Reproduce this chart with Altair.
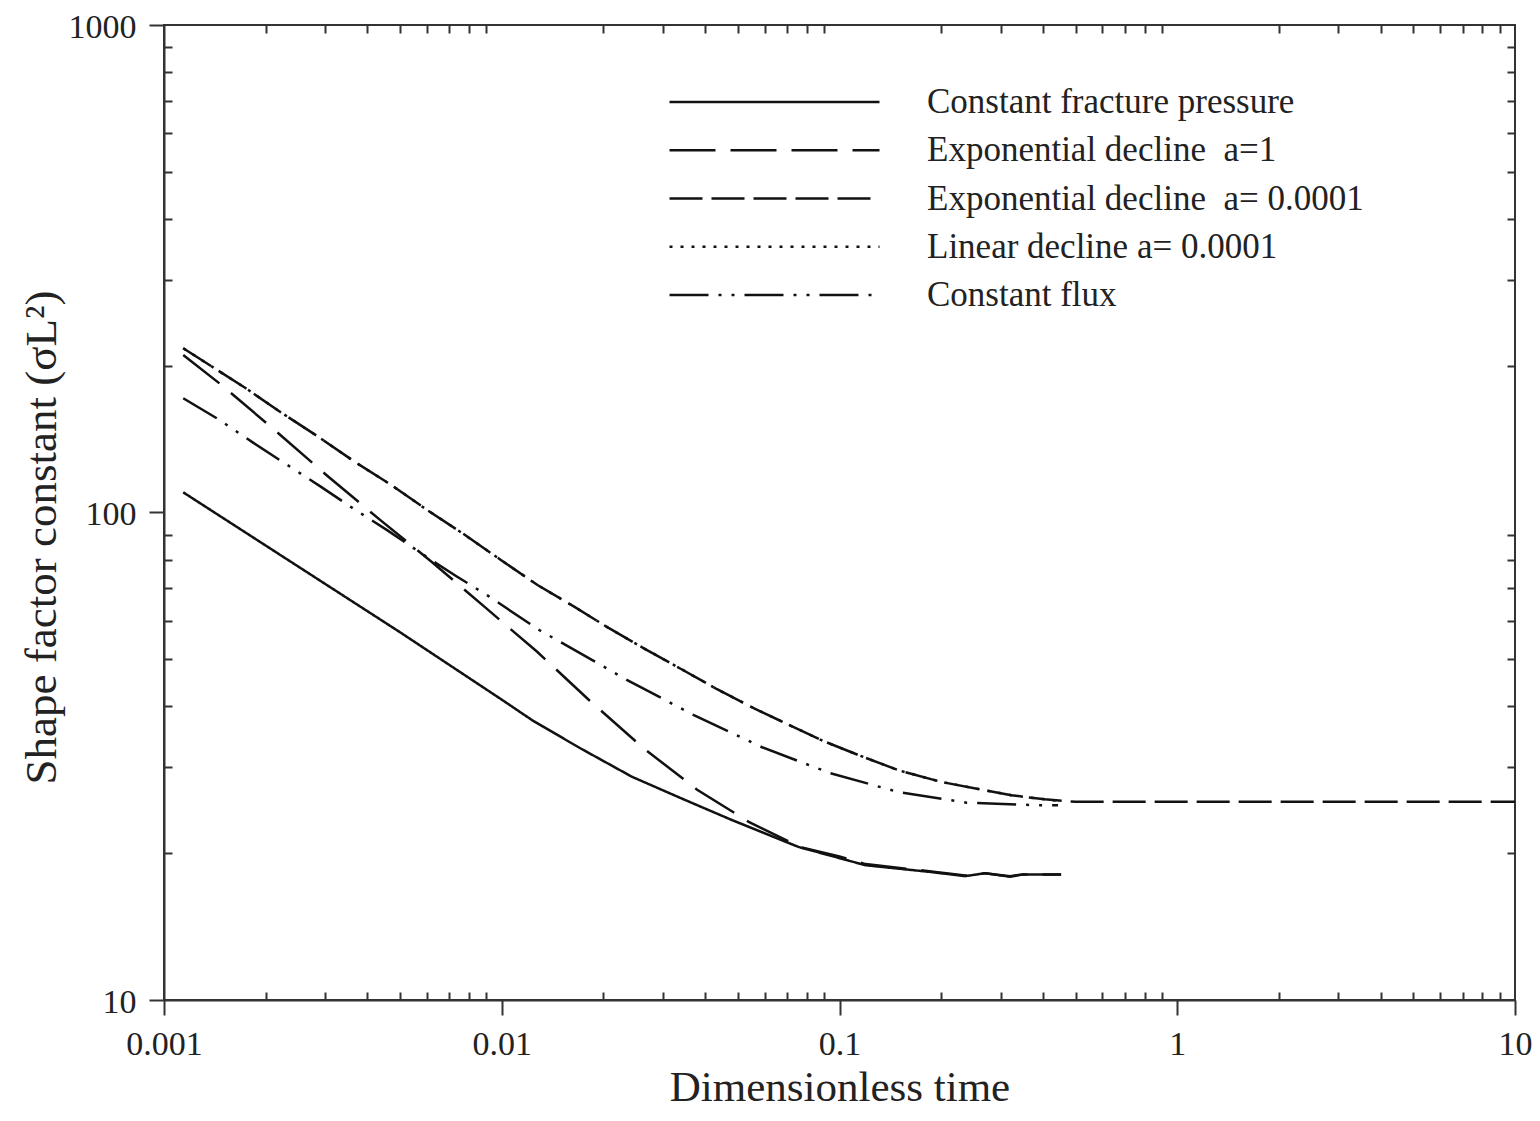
import altair as alt
import pandas as pd

# ---------------- data ----------------
series_names = [
    "Constant fracture pressure",
    "Exponential decline\u00a0 a=1",
    "Exponential decline\u00a0 a= 0.0001",
    "Linear decline a= 0.0001",
    "Constant flux",
]

const_p_t = [0.00114, 0.00498, 0.01006, 0.0123, 0.0170, 0.0243, 0.0350, 0.048,
             0.0757, 0.1194, 0.187, 0.2355, 0.27, 0.32, 0.35, 0.453]
const_p_y = [110.0, 56.9, 41.2, 37.5, 32.9, 28.7, 25.7, 23.4,
             20.6, 18.9, 18.3, 17.95, 18.2, 17.9, 18.1, 18.1]

exp1_t = [0.00114, 0.00148, 0.002127, 0.003024, 0.004345, 0.006246, 0.00888,
          0.01273, 0.01822, 0.02636, 0.03789, 0.05385, 0.07653, 0.1, 0.1194,
          0.187, 0.2355, 0.27, 0.32, 0.35, 0.453]
exp1_y = [210.4, 182.6, 147.6, 119.4, 96.8, 78.9, 64.1,
          51.8, 41.1, 32.8, 27.0, 23.2, 20.6, 19.7, 19.0,
          18.35, 18.0, 18.2, 17.95, 18.1, 18.1]

exp4_t = [0.00114, 0.001747, 0.002242, 0.002876, 0.003667, 0.004707, 0.006012,
          0.00766, 0.00994, 0.01276, 0.01638, 0.02078, 0.02667, 0.03406, 0.0434,
          0.05569, 0.07069, 0.09031, 0.1151, 0.1494, 0.2005, 0.2574, 0.3228,
          0.4052, 0.5, 1.0, 2.0, 5.0, 10.0]
exp4_y = [217.2, 179.8, 159.7, 142.7, 127.1, 113.9, 101.2,
          90.6, 79.9, 71.0, 64.1, 57.9, 52.4, 47.7, 43.4,
          39.7, 36.7, 33.9, 31.7, 29.6, 28.0, 27.1, 26.3,
          25.8, 25.5, 25.5, 25.5, 25.5, 25.5]

lin_t = [0.00114, 0.001747, 0.002242, 0.002876, 0.003667, 0.004707, 0.006012,
         0.00766, 0.00994, 0.01276, 0.01638, 0.02078, 0.02667, 0.03406, 0.0434,
         0.05569, 0.07069, 0.09031, 0.1151, 0.1494, 0.2005, 0.2574, 0.3228,
         0.4052, 0.45]
lin_y = [217.2, 179.8, 159.7, 142.7, 127.1, 113.9, 101.2,
         90.6, 79.9, 71.0, 64.1, 57.9, 52.4, 47.7, 43.4,
         39.7, 36.7, 33.9, 31.7, 29.6, 28.0, 27.1, 26.3,
         25.8, 25.6]

flux_t = [0.00114, 0.001446, 0.001835, 0.002293, 0.00291, 0.003649, 0.0046,
          0.00625, 0.00732, 0.00919, 0.01291, 0.01854, 0.02327, 0.03705,
          0.05896, 0.09386, 0.1494, 0.2377, 0.3785, 0.4436]
flux_y = [171.5, 155.5, 139.1, 125.8, 113.0, 101.7, 91.8,
          79.5, 74.1, 67.2, 57.4, 49.8, 45.5, 38.4,
          33.0, 29.2, 26.7, 25.4, 25.1, 25.1]

x_major = [0.001, 0.01, 0.1, 1, 10]
y_major = [10, 100, 1000]
x_minor = [d * k for d in [0.001, 0.01, 0.1, 1] for k in range(2, 10)]
y_minor = [d * k for d in [10, 100] for k in range(2, 10)]

dash_patterns = [[1, 0], [46, 15], [33, 9], [3, 8], [39, 10, 3, 10, 3, 10]]

# ---------------- table ----------------
rows = []
for name, ts, ys in zip(series_names,
                        [const_p_t, exp1_t, exp4_t, lin_t, flux_t],
                        [const_p_y, exp1_y, exp4_y, lin_y, flux_y]):
    for t, v in zip(ts, ys):
        rows.append({"series": name, "t": t, "y": v})
df = pd.DataFrame(rows)

W, H = 1351, 975
xscale = alt.Scale(type="log", domain=[0.001, 10], nice=False)
yscale = alt.Scale(type="log", domain=[10, 1000], nice=False)

FONT = "Liberation Serif"
common = dict(domainColor="#333", domainWidth=2, tickColor="#333", tickWidth=2,
              grid=False, labelFont=FONT, labelColor="#222",
              titleFont=FONT, titleColor="#222", titleFontWeight="normal")

lines = alt.Chart(df).mark_line(strokeWidth=2.5, color="#111").encode(
    x=alt.X("t:Q", scale=xscale,
            axis=alt.Axis(orient="bottom", values=x_major,
                          labelExpr="toString(datum.value)", tickSize=15,
                          labelPadding=12, labelFontSize=34, labelFlush=False,
                          labelOverlap=False, title="Dimensionless time",
                          titleFontSize=43, titlePadding=5, **common)),
    y=alt.Y("y:Q", scale=yscale,
            axis=alt.Axis(orient="left", values=y_major,
                          labelExpr="toString(datum.value)", tickSize=15,
                          labelPadding=13, labelFontSize=34, labelOverlap=False,
                          labelOffset=2,
                          title="Shape factor constant (σL²)", titleY=512,
                          titleFontSize=45, titlePadding=4, **common)),
    strokeDash=alt.StrokeDash(
        "series:N",
        scale=alt.Scale(domain=series_names, range=dash_patterns),
        sort=series_names,
        legend=alt.Legend(orient="none", legendX=504, legendY=57, title=None,
                          symbolType="stroke", symbolSize=44100,
                          symbolStrokeWidth=2.5, symbolStrokeColor="#111",
                          clipHeight=40, rowPadding=8.25, padding=0,
                          labelFont=FONT, labelFontSize=35, labelColor="#222",
                          labelOffset=46, labelLimit=800),
    ),
)

minor_common = dict(labels=False, domain=False, tickSize=8, title=None,
                    tickColor="#333", tickWidth=2, grid=False)

inner1 = alt.Chart(df).mark_point(opacity=0).encode(
    x=alt.X("t:Q", scale=xscale,
            axis=alt.Axis(orient="top", offset=-H, values=x_minor, **minor_common)),
    y=alt.Y("y:Q", scale=yscale,
            axis=alt.Axis(orient="right", offset=-W, values=y_minor, **minor_common)),
)

inner2 = alt.Chart(df).mark_point(opacity=0).encode(
    x=alt.X("t:Q", scale=xscale,
            axis=alt.Axis(orient="bottom", offset=-H, values=x_minor, **minor_common)),
    y=alt.Y("y:Q", scale=yscale,
            axis=alt.Axis(orient="left", offset=-W, values=y_minor, **minor_common)),
)

chart = alt.layer(lines, inner1, inner2).resolve_scale(
    x="independent", y="independent"
).resolve_axis(
    x="independent", y="independent"
).properties(
    width=W, height=H,
    autosize=alt.AutoSizeParams(type="none"),
    padding={"left": 156, "top": 17, "right": 17, "bottom": 113},
).configure_view(stroke="#333", strokeWidth=2)

chart.save("out.html", embed_options={"renderer": "svg", "actions": False})
